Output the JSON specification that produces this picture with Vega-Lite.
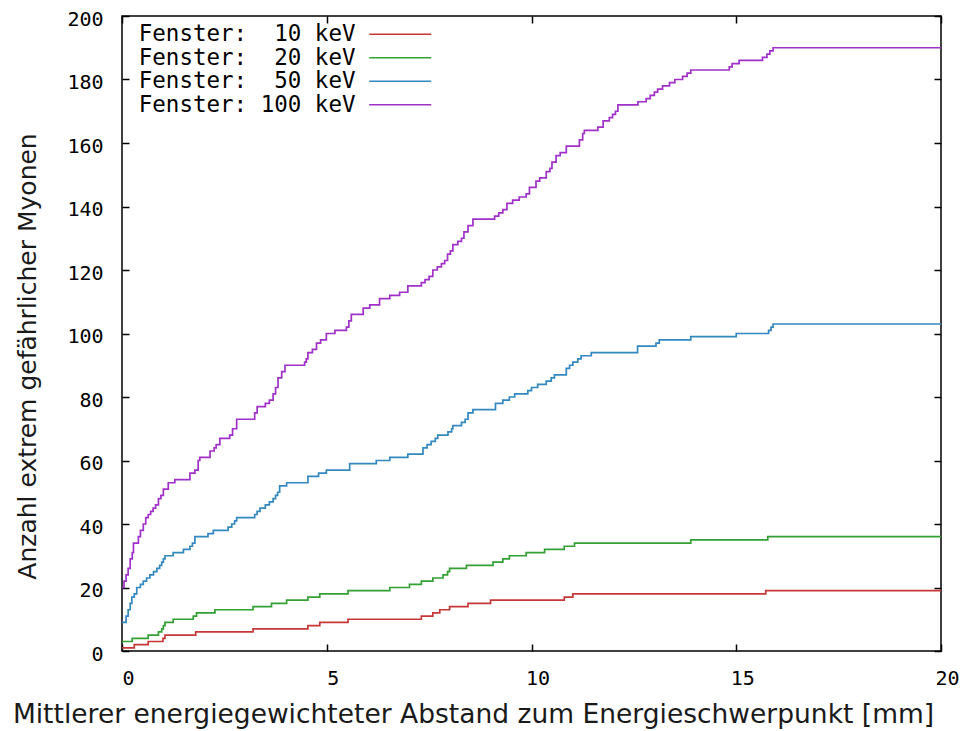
{
  "$schema": "https://vega.github.io/schema/vega-lite/v6.json",
  "width": 819,
  "height": 635,
  "autosize": {"type": "none"},
  "padding": {"left": 122, "top": 16, "right": 21, "bottom": 80},
  "background": "white",
  "config": {
    "view": {"stroke": "#000", "strokeWidth": 1.5},
    "font": "Liberation Sans"
  },
  "datasets": {
    "kurven": [
      {"fenster": "Fenster: \u00a010 keV", "abstand": 0, "anzahl": 1},
      {"fenster": "Fenster: \u00a010 keV", "abstand": 0.3, "anzahl": 2},
      {"fenster": "Fenster: \u00a010 keV", "abstand": 0.64, "anzahl": 3},
      {"fenster": "Fenster: \u00a010 keV", "abstand": 1.0, "anzahl": 4},
      {"fenster": "Fenster: \u00a010 keV", "abstand": 1.05, "anzahl": 5},
      {"fenster": "Fenster: \u00a010 keV", "abstand": 1.8, "anzahl": 6},
      {"fenster": "Fenster: \u00a010 keV", "abstand": 3.2, "anzahl": 7},
      {"fenster": "Fenster: \u00a010 keV", "abstand": 4.54, "anzahl": 8},
      {"fenster": "Fenster: \u00a010 keV", "abstand": 4.83, "anzahl": 9},
      {"fenster": "Fenster: \u00a010 keV", "abstand": 5.52, "anzahl": 10},
      {"fenster": "Fenster: \u00a010 keV", "abstand": 7.31, "anzahl": 11},
      {"fenster": "Fenster: \u00a010 keV", "abstand": 7.59, "anzahl": 12},
      {"fenster": "Fenster: \u00a010 keV", "abstand": 7.76, "anzahl": 13},
      {"fenster": "Fenster: \u00a010 keV", "abstand": 8.0, "anzahl": 14},
      {"fenster": "Fenster: \u00a010 keV", "abstand": 8.45, "anzahl": 15},
      {"fenster": "Fenster: \u00a010 keV", "abstand": 9.0, "anzahl": 16},
      {"fenster": "Fenster: \u00a010 keV", "abstand": 10.8, "anzahl": 17},
      {"fenster": "Fenster: \u00a010 keV", "abstand": 11.01, "anzahl": 18},
      {"fenster": "Fenster: \u00a010 keV", "abstand": 15.72, "anzahl": 19},
      {"fenster": "Fenster: \u00a010 keV", "abstand": 20, "anzahl": 19},

      {"fenster": "Fenster: \u00a020 keV", "abstand": 0, "anzahl": 3},
      {"fenster": "Fenster: \u00a020 keV", "abstand": 0.25, "anzahl": 4},
      {"fenster": "Fenster: \u00a020 keV", "abstand": 0.64, "anzahl": 5},
      {"fenster": "Fenster: \u00a020 keV", "abstand": 0.89, "anzahl": 6},
      {"fenster": "Fenster: \u00a020 keV", "abstand": 0.97, "anzahl": 7},
      {"fenster": "Fenster: \u00a020 keV", "abstand": 1.01, "anzahl": 8},
      {"fenster": "Fenster: \u00a020 keV", "abstand": 1.05, "anzahl": 9},
      {"fenster": "Fenster: \u00a020 keV", "abstand": 1.25, "anzahl": 10},
      {"fenster": "Fenster: \u00a020 keV", "abstand": 1.74, "anzahl": 11},
      {"fenster": "Fenster: \u00a020 keV", "abstand": 1.82, "anzahl": 12},
      {"fenster": "Fenster: \u00a020 keV", "abstand": 2.27, "anzahl": 13},
      {"fenster": "Fenster: \u00a020 keV", "abstand": 3.2, "anzahl": 14},
      {"fenster": "Fenster: \u00a020 keV", "abstand": 3.65, "anzahl": 15},
      {"fenster": "Fenster: \u00a020 keV", "abstand": 4.02, "anzahl": 16},
      {"fenster": "Fenster: \u00a020 keV", "abstand": 4.54, "anzahl": 17},
      {"fenster": "Fenster: \u00a020 keV", "abstand": 4.83, "anzahl": 18},
      {"fenster": "Fenster: \u00a020 keV", "abstand": 5.52, "anzahl": 19},
      {"fenster": "Fenster: \u00a020 keV", "abstand": 6.54, "anzahl": 20},
      {"fenster": "Fenster: \u00a020 keV", "abstand": 7.02, "anzahl": 21},
      {"fenster": "Fenster: \u00a020 keV", "abstand": 7.31, "anzahl": 22},
      {"fenster": "Fenster: \u00a020 keV", "abstand": 7.59, "anzahl": 23},
      {"fenster": "Fenster: \u00a020 keV", "abstand": 7.84, "anzahl": 24},
      {"fenster": "Fenster: \u00a020 keV", "abstand": 7.95, "anzahl": 25},
      {"fenster": "Fenster: \u00a020 keV", "abstand": 8.0, "anzahl": 26},
      {"fenster": "Fenster: \u00a020 keV", "abstand": 8.41, "anzahl": 27},
      {"fenster": "Fenster: \u00a020 keV", "abstand": 9.06, "anzahl": 28},
      {"fenster": "Fenster: \u00a020 keV", "abstand": 9.3, "anzahl": 29},
      {"fenster": "Fenster: \u00a020 keV", "abstand": 9.46, "anzahl": 30},
      {"fenster": "Fenster: \u00a020 keV", "abstand": 9.87, "anzahl": 31},
      {"fenster": "Fenster: \u00a020 keV", "abstand": 10.32, "anzahl": 32},
      {"fenster": "Fenster: \u00a020 keV", "abstand": 10.8, "anzahl": 33},
      {"fenster": "Fenster: \u00a020 keV", "abstand": 11.05, "anzahl": 34},
      {"fenster": "Fenster: \u00a020 keV", "abstand": 13.89, "anzahl": 35},
      {"fenster": "Fenster: \u00a020 keV", "abstand": 15.77, "anzahl": 36},
      {"fenster": "Fenster: \u00a020 keV", "abstand": 20, "anzahl": 36},

      {"fenster": "Fenster: \u00a050 keV", "abstand": 0, "anzahl": 9},
      {"fenster": "Fenster: \u00a050 keV", "abstand": 0.1, "anzahl": 11},
      {"fenster": "Fenster: \u00a050 keV", "abstand": 0.15, "anzahl": 13},
      {"fenster": "Fenster: \u00a050 keV", "abstand": 0.2, "anzahl": 15},
      {"fenster": "Fenster: \u00a050 keV", "abstand": 0.24, "anzahl": 17},
      {"fenster": "Fenster: \u00a050 keV", "abstand": 0.3, "anzahl": 18},
      {"fenster": "Fenster: \u00a050 keV", "abstand": 0.36, "anzahl": 20},
      {"fenster": "Fenster: \u00a050 keV", "abstand": 0.45, "anzahl": 21},
      {"fenster": "Fenster: \u00a050 keV", "abstand": 0.52, "anzahl": 22},
      {"fenster": "Fenster: \u00a050 keV", "abstand": 0.6, "anzahl": 23},
      {"fenster": "Fenster: \u00a050 keV", "abstand": 0.68, "anzahl": 24},
      {"fenster": "Fenster: \u00a050 keV", "abstand": 0.77, "anzahl": 25},
      {"fenster": "Fenster: \u00a050 keV", "abstand": 0.85, "anzahl": 26},
      {"fenster": "Fenster: \u00a050 keV", "abstand": 0.92, "anzahl": 27},
      {"fenster": "Fenster: \u00a050 keV", "abstand": 0.97, "anzahl": 28},
      {"fenster": "Fenster: \u00a050 keV", "abstand": 1.01, "anzahl": 29},
      {"fenster": "Fenster: \u00a050 keV", "abstand": 1.05, "anzahl": 30},
      {"fenster": "Fenster: \u00a050 keV", "abstand": 1.25, "anzahl": 31},
      {"fenster": "Fenster: \u00a050 keV", "abstand": 1.5, "anzahl": 32},
      {"fenster": "Fenster: \u00a050 keV", "abstand": 1.66, "anzahl": 33},
      {"fenster": "Fenster: \u00a050 keV", "abstand": 1.72, "anzahl": 34},
      {"fenster": "Fenster: \u00a050 keV", "abstand": 1.78, "anzahl": 36},
      {"fenster": "Fenster: \u00a050 keV", "abstand": 2.1, "anzahl": 37},
      {"fenster": "Fenster: \u00a050 keV", "abstand": 2.23, "anzahl": 38},
      {"fenster": "Fenster: \u00a050 keV", "abstand": 2.59, "anzahl": 39},
      {"fenster": "Fenster: \u00a050 keV", "abstand": 2.68, "anzahl": 40},
      {"fenster": "Fenster: \u00a050 keV", "abstand": 2.75, "anzahl": 41},
      {"fenster": "Fenster: \u00a050 keV", "abstand": 2.8, "anzahl": 42},
      {"fenster": "Fenster: \u00a050 keV", "abstand": 3.24, "anzahl": 43},
      {"fenster": "Fenster: \u00a050 keV", "abstand": 3.3, "anzahl": 44},
      {"fenster": "Fenster: \u00a050 keV", "abstand": 3.37, "anzahl": 45},
      {"fenster": "Fenster: \u00a050 keV", "abstand": 3.5, "anzahl": 46},
      {"fenster": "Fenster: \u00a050 keV", "abstand": 3.6, "anzahl": 47},
      {"fenster": "Fenster: \u00a050 keV", "abstand": 3.69, "anzahl": 48},
      {"fenster": "Fenster: \u00a050 keV", "abstand": 3.75, "anzahl": 49},
      {"fenster": "Fenster: \u00a050 keV", "abstand": 3.8, "anzahl": 50},
      {"fenster": "Fenster: \u00a050 keV", "abstand": 3.85, "anzahl": 52},
      {"fenster": "Fenster: \u00a050 keV", "abstand": 4.02, "anzahl": 53},
      {"fenster": "Fenster: \u00a050 keV", "abstand": 4.54, "anzahl": 55},
      {"fenster": "Fenster: \u00a050 keV", "abstand": 4.8, "anzahl": 56},
      {"fenster": "Fenster: \u00a050 keV", "abstand": 4.99, "anzahl": 57},
      {"fenster": "Fenster: \u00a050 keV", "abstand": 5.56, "anzahl": 59},
      {"fenster": "Fenster: \u00a050 keV", "abstand": 6.21, "anzahl": 60},
      {"fenster": "Fenster: \u00a050 keV", "abstand": 6.54, "anzahl": 61},
      {"fenster": "Fenster: \u00a050 keV", "abstand": 6.98, "anzahl": 62},
      {"fenster": "Fenster: \u00a050 keV", "abstand": 7.35, "anzahl": 64},
      {"fenster": "Fenster: \u00a050 keV", "abstand": 7.45, "anzahl": 65},
      {"fenster": "Fenster: \u00a050 keV", "abstand": 7.55, "anzahl": 66},
      {"fenster": "Fenster: \u00a050 keV", "abstand": 7.65, "anzahl": 67},
      {"fenster": "Fenster: \u00a050 keV", "abstand": 7.71, "anzahl": 68},
      {"fenster": "Fenster: \u00a050 keV", "abstand": 7.96, "anzahl": 69},
      {"fenster": "Fenster: \u00a050 keV", "abstand": 8.05, "anzahl": 70},
      {"fenster": "Fenster: \u00a050 keV", "abstand": 8.08, "anzahl": 71},
      {"fenster": "Fenster: \u00a050 keV", "abstand": 8.29, "anzahl": 72},
      {"fenster": "Fenster: \u00a050 keV", "abstand": 8.38, "anzahl": 73},
      {"fenster": "Fenster: \u00a050 keV", "abstand": 8.45, "anzahl": 75},
      {"fenster": "Fenster: \u00a050 keV", "abstand": 8.57, "anzahl": 76},
      {"fenster": "Fenster: \u00a050 keV", "abstand": 9.12, "anzahl": 78},
      {"fenster": "Fenster: \u00a050 keV", "abstand": 9.3, "anzahl": 79},
      {"fenster": "Fenster: \u00a050 keV", "abstand": 9.46, "anzahl": 80},
      {"fenster": "Fenster: \u00a050 keV", "abstand": 9.59, "anzahl": 81},
      {"fenster": "Fenster: \u00a050 keV", "abstand": 9.91, "anzahl": 82},
      {"fenster": "Fenster: \u00a050 keV", "abstand": 10.0, "anzahl": 83},
      {"fenster": "Fenster: \u00a050 keV", "abstand": 10.15, "anzahl": 84},
      {"fenster": "Fenster: \u00a050 keV", "abstand": 10.36, "anzahl": 85},
      {"fenster": "Fenster: \u00a050 keV", "abstand": 10.48, "anzahl": 86},
      {"fenster": "Fenster: \u00a050 keV", "abstand": 10.56, "anzahl": 87},
      {"fenster": "Fenster: \u00a050 keV", "abstand": 10.85, "anzahl": 89},
      {"fenster": "Fenster: \u00a050 keV", "abstand": 10.93, "anzahl": 90},
      {"fenster": "Fenster: \u00a050 keV", "abstand": 11.01, "anzahl": 91},
      {"fenster": "Fenster: \u00a050 keV", "abstand": 11.13, "anzahl": 92},
      {"fenster": "Fenster: \u00a050 keV", "abstand": 11.21, "anzahl": 93},
      {"fenster": "Fenster: \u00a050 keV", "abstand": 11.46, "anzahl": 94},
      {"fenster": "Fenster: \u00a050 keV", "abstand": 12.59, "anzahl": 96},
      {"fenster": "Fenster: \u00a050 keV", "abstand": 13.04, "anzahl": 97},
      {"fenster": "Fenster: \u00a050 keV", "abstand": 13.12, "anzahl": 98},
      {"fenster": "Fenster: \u00a050 keV", "abstand": 13.89, "anzahl": 99},
      {"fenster": "Fenster: \u00a050 keV", "abstand": 15.0, "anzahl": 100},
      {"fenster": "Fenster: \u00a050 keV", "abstand": 15.79, "anzahl": 101},
      {"fenster": "Fenster: \u00a050 keV", "abstand": 15.85, "anzahl": 102},
      {"fenster": "Fenster: \u00a050 keV", "abstand": 15.9, "anzahl": 103},
      {"fenster": "Fenster: \u00a050 keV", "abstand": 20, "anzahl": 103},

      {"fenster": "Fenster: 100 keV", "abstand": 0, "anzahl": 20},
      {"fenster": "Fenster: 100 keV", "abstand": 0.05, "anzahl": 22},
      {"fenster": "Fenster: 100 keV", "abstand": 0.1, "anzahl": 24},
      {"fenster": "Fenster: 100 keV", "abstand": 0.15, "anzahl": 26},
      {"fenster": "Fenster: 100 keV", "abstand": 0.2, "anzahl": 29},
      {"fenster": "Fenster: 100 keV", "abstand": 0.25, "anzahl": 31},
      {"fenster": "Fenster: 100 keV", "abstand": 0.28, "anzahl": 34},
      {"fenster": "Fenster: 100 keV", "abstand": 0.4, "anzahl": 36},
      {"fenster": "Fenster: 100 keV", "abstand": 0.45, "anzahl": 38},
      {"fenster": "Fenster: 100 keV", "abstand": 0.52, "anzahl": 40},
      {"fenster": "Fenster: 100 keV", "abstand": 0.58, "anzahl": 42},
      {"fenster": "Fenster: 100 keV", "abstand": 0.64, "anzahl": 43},
      {"fenster": "Fenster: 100 keV", "abstand": 0.7, "anzahl": 44},
      {"fenster": "Fenster: 100 keV", "abstand": 0.76, "anzahl": 45},
      {"fenster": "Fenster: 100 keV", "abstand": 0.82, "anzahl": 46},
      {"fenster": "Fenster: 100 keV", "abstand": 0.89, "anzahl": 48},
      {"fenster": "Fenster: 100 keV", "abstand": 0.95, "anzahl": 49},
      {"fenster": "Fenster: 100 keV", "abstand": 1.01, "anzahl": 51},
      {"fenster": "Fenster: 100 keV", "abstand": 1.13, "anzahl": 53},
      {"fenster": "Fenster: 100 keV", "abstand": 1.29, "anzahl": 54},
      {"fenster": "Fenster: 100 keV", "abstand": 1.66, "anzahl": 56},
      {"fenster": "Fenster: 100 keV", "abstand": 1.78, "anzahl": 57},
      {"fenster": "Fenster: 100 keV", "abstand": 1.86, "anzahl": 60},
      {"fenster": "Fenster: 100 keV", "abstand": 1.9, "anzahl": 61},
      {"fenster": "Fenster: 100 keV", "abstand": 2.15, "anzahl": 63},
      {"fenster": "Fenster: 100 keV", "abstand": 2.25, "anzahl": 64},
      {"fenster": "Fenster: 100 keV", "abstand": 2.3, "anzahl": 65},
      {"fenster": "Fenster: 100 keV", "abstand": 2.39, "anzahl": 67},
      {"fenster": "Fenster: 100 keV", "abstand": 2.63, "anzahl": 68},
      {"fenster": "Fenster: 100 keV", "abstand": 2.7, "anzahl": 70},
      {"fenster": "Fenster: 100 keV", "abstand": 2.8, "anzahl": 73},
      {"fenster": "Fenster: 100 keV", "abstand": 3.24, "anzahl": 75},
      {"fenster": "Fenster: 100 keV", "abstand": 3.3, "anzahl": 77},
      {"fenster": "Fenster: 100 keV", "abstand": 3.5, "anzahl": 78},
      {"fenster": "Fenster: 100 keV", "abstand": 3.6, "anzahl": 79},
      {"fenster": "Fenster: 100 keV", "abstand": 3.69, "anzahl": 81},
      {"fenster": "Fenster: 100 keV", "abstand": 3.75, "anzahl": 83},
      {"fenster": "Fenster: 100 keV", "abstand": 3.81, "anzahl": 86},
      {"fenster": "Fenster: 100 keV", "abstand": 3.9, "anzahl": 88},
      {"fenster": "Fenster: 100 keV", "abstand": 3.98, "anzahl": 90},
      {"fenster": "Fenster: 100 keV", "abstand": 4.46, "anzahl": 91},
      {"fenster": "Fenster: 100 keV", "abstand": 4.5, "anzahl": 92},
      {"fenster": "Fenster: 100 keV", "abstand": 4.54, "anzahl": 94},
      {"fenster": "Fenster: 100 keV", "abstand": 4.65, "anzahl": 95},
      {"fenster": "Fenster: 100 keV", "abstand": 4.75, "anzahl": 97},
      {"fenster": "Fenster: 100 keV", "abstand": 4.85, "anzahl": 98},
      {"fenster": "Fenster: 100 keV", "abstand": 4.99, "anzahl": 100},
      {"fenster": "Fenster: 100 keV", "abstand": 5.2, "anzahl": 101},
      {"fenster": "Fenster: 100 keV", "abstand": 5.48, "anzahl": 102},
      {"fenster": "Fenster: 100 keV", "abstand": 5.54, "anzahl": 104},
      {"fenster": "Fenster: 100 keV", "abstand": 5.6, "anzahl": 106},
      {"fenster": "Fenster: 100 keV", "abstand": 5.89, "anzahl": 108},
      {"fenster": "Fenster: 100 keV", "abstand": 6.05, "anzahl": 109},
      {"fenster": "Fenster: 100 keV", "abstand": 6.29, "anzahl": 111},
      {"fenster": "Fenster: 100 keV", "abstand": 6.54, "anzahl": 112},
      {"fenster": "Fenster: 100 keV", "abstand": 6.78, "anzahl": 113},
      {"fenster": "Fenster: 100 keV", "abstand": 6.98, "anzahl": 115},
      {"fenster": "Fenster: 100 keV", "abstand": 7.31, "anzahl": 116},
      {"fenster": "Fenster: 100 keV", "abstand": 7.4, "anzahl": 117},
      {"fenster": "Fenster: 100 keV", "abstand": 7.5, "anzahl": 118},
      {"fenster": "Fenster: 100 keV", "abstand": 7.59, "anzahl": 120},
      {"fenster": "Fenster: 100 keV", "abstand": 7.7, "anzahl": 121},
      {"fenster": "Fenster: 100 keV", "abstand": 7.8, "anzahl": 122},
      {"fenster": "Fenster: 100 keV", "abstand": 7.88, "anzahl": 123},
      {"fenster": "Fenster: 100 keV", "abstand": 7.95, "anzahl": 125},
      {"fenster": "Fenster: 100 keV", "abstand": 8.02, "anzahl": 126},
      {"fenster": "Fenster: 100 keV", "abstand": 8.08, "anzahl": 128},
      {"fenster": "Fenster: 100 keV", "abstand": 8.2, "anzahl": 129},
      {"fenster": "Fenster: 100 keV", "abstand": 8.29, "anzahl": 130},
      {"fenster": "Fenster: 100 keV", "abstand": 8.35, "anzahl": 132},
      {"fenster": "Fenster: 100 keV", "abstand": 8.45, "anzahl": 134},
      {"fenster": "Fenster: 100 keV", "abstand": 8.57, "anzahl": 136},
      {"fenster": "Fenster: 100 keV", "abstand": 9.1, "anzahl": 137},
      {"fenster": "Fenster: 100 keV", "abstand": 9.2, "anzahl": 138},
      {"fenster": "Fenster: 100 keV", "abstand": 9.3, "anzahl": 139},
      {"fenster": "Fenster: 100 keV", "abstand": 9.4, "anzahl": 141},
      {"fenster": "Fenster: 100 keV", "abstand": 9.54, "anzahl": 142},
      {"fenster": "Fenster: 100 keV", "abstand": 9.7, "anzahl": 143},
      {"fenster": "Fenster: 100 keV", "abstand": 9.87, "anzahl": 144},
      {"fenster": "Fenster: 100 keV", "abstand": 9.95, "anzahl": 146},
      {"fenster": "Fenster: 100 keV", "abstand": 10.11, "anzahl": 148},
      {"fenster": "Fenster: 100 keV", "abstand": 10.2, "anzahl": 149},
      {"fenster": "Fenster: 100 keV", "abstand": 10.36, "anzahl": 151},
      {"fenster": "Fenster: 100 keV", "abstand": 10.45, "anzahl": 152},
      {"fenster": "Fenster: 100 keV", "abstand": 10.5, "anzahl": 154},
      {"fenster": "Fenster: 100 keV", "abstand": 10.6, "anzahl": 156},
      {"fenster": "Fenster: 100 keV", "abstand": 10.7, "anzahl": 157},
      {"fenster": "Fenster: 100 keV", "abstand": 10.85, "anzahl": 159},
      {"fenster": "Fenster: 100 keV", "abstand": 11.17, "anzahl": 161},
      {"fenster": "Fenster: 100 keV", "abstand": 11.25, "anzahl": 163},
      {"fenster": "Fenster: 100 keV", "abstand": 11.29, "anzahl": 164},
      {"fenster": "Fenster: 100 keV", "abstand": 11.62, "anzahl": 165},
      {"fenster": "Fenster: 100 keV", "abstand": 11.75, "anzahl": 167},
      {"fenster": "Fenster: 100 keV", "abstand": 11.9, "anzahl": 168},
      {"fenster": "Fenster: 100 keV", "abstand": 11.98, "anzahl": 169},
      {"fenster": "Fenster: 100 keV", "abstand": 12.05, "anzahl": 170},
      {"fenster": "Fenster: 100 keV", "abstand": 12.11, "anzahl": 172},
      {"fenster": "Fenster: 100 keV", "abstand": 12.6, "anzahl": 173},
      {"fenster": "Fenster: 100 keV", "abstand": 12.8, "anzahl": 174},
      {"fenster": "Fenster: 100 keV", "abstand": 12.9, "anzahl": 175},
      {"fenster": "Fenster: 100 keV", "abstand": 13.0, "anzahl": 176},
      {"fenster": "Fenster: 100 keV", "abstand": 13.08, "anzahl": 177},
      {"fenster": "Fenster: 100 keV", "abstand": 13.2, "anzahl": 178},
      {"fenster": "Fenster: 100 keV", "abstand": 13.37, "anzahl": 179},
      {"fenster": "Fenster: 100 keV", "abstand": 13.5, "anzahl": 180},
      {"fenster": "Fenster: 100 keV", "abstand": 13.69, "anzahl": 181},
      {"fenster": "Fenster: 100 keV", "abstand": 13.8, "anzahl": 182},
      {"fenster": "Fenster: 100 keV", "abstand": 13.89, "anzahl": 183},
      {"fenster": "Fenster: 100 keV", "abstand": 14.83, "anzahl": 184},
      {"fenster": "Fenster: 100 keV", "abstand": 14.9, "anzahl": 185},
      {"fenster": "Fenster: 100 keV", "abstand": 15.07, "anzahl": 186},
      {"fenster": "Fenster: 100 keV", "abstand": 15.64, "anzahl": 187},
      {"fenster": "Fenster: 100 keV", "abstand": 15.75, "anzahl": 188},
      {"fenster": "Fenster: 100 keV", "abstand": 15.82, "anzahl": 189},
      {"fenster": "Fenster: 100 keV", "abstand": 15.9, "anzahl": 190},
      {"fenster": "Fenster: 100 keV", "abstand": 20, "anzahl": 190}
    ]
  },
  "data": {"name": "kurven"},
  "resolve": {"axis": {"x": "independent", "y": "independent"}},
  "layer": [
    {
      "transform": [{"filter": {"field": "fenster", "oneOf": ["Fenster: \u00a010 keV", "Fenster: \u00a020 keV"]}}],
      "mark": {"type": "line", "interpolate": "step-after", "strokeWidth": 1.7},
      "encoding": {
        "x": {
          "field": "abstand", "type": "quantitative",
          "scale": {"domain": [0, 20], "nice": false, "zero": false},
          "axis": {
            "orient": "bottom", "values": [0, 5, 10, 15, 20], "domain": false, "grid": false,
            "tickSize": -7, "tickWidth": 1.5, "tickColor": "#000",
            "labelFont": "DejaVu Sans Mono", "labelFontSize": 20, "labelColor": "#000",
            "labelPadding": 24, "labelOffset": 6, "labelFlush": false, "labelOverlap": false,
            "title": "Mittlerer energiegewichteter Abstand zum Energieschwerpunkt [mm]",
            "titleFont": "DejaVu Sans", "titleFontSize": 26.5, "titleFontWeight": "normal", "titleColor": "#1a1a1a",
            "titleX": 351, "titleY": 71, "titleAlign": "center", "titleBaseline": "alphabetic"
          }
        },
        "y": {
          "field": "anzahl", "type": "quantitative",
          "scale": {"domain": [0, 200], "nice": false},
          "axis": {
            "orient": "left", "values": [0, 20, 40, 60, 80, 100, 120, 140, 160, 180, 200], "domain": false, "grid": false,
            "tickSize": -7, "tickWidth": 1.5, "tickColor": "#000",
            "labelFont": "DejaVu Sans Mono", "labelFontSize": 20, "labelColor": "#000",
            "labelPadding": 26, "labelOffset": 3, "labelFlush": false, "labelOverlap": false,
            "title": "Anzahl extrem gefährlicher Myonen",
            "titleFont": "DejaVu Sans", "titleFontSize": 25, "titleFontWeight": "normal", "titleColor": "#1a1a1a",
            "titleX": -87, "titleY": 340, "titleAngle": 270, "titleAlign": "center", "titleBaseline": "alphabetic"
          }
        },
        "color": {
          "field": "fenster", "type": "nominal",
          "scale": {
            "domain": ["Fenster: \u00a010 keV", "Fenster: \u00a020 keV", "Fenster: \u00a050 keV", "Fenster: 100 keV"],
            "range": ["#c83737", "#33a033", "#3388c0", "#a030c8"]
          },
          "legend": {
            "orient": "none", "legendX": 267, "legendY": 7, "title": null, "padding": 0,
            "symbolType": "M-5,0H5", "symbolSize": 154, "symbolStrokeWidth": 1.7, "symbolFillColor": "transparent",
            "rowPadding": 0.5,
            "labelAlign": "right", "labelOffset": -56, "labelLimit": 400,
            "labelFont": "DejaVu Sans Mono", "labelFontSize": 22.5, "labelColor": "#000"
          }
        }
      }
    },
    {
      "transform": [{"filter": {"field": "fenster", "oneOf": ["Fenster: \u00a050 keV", "Fenster: 100 keV"]}}],
      "mark": {"type": "line", "interpolate": "step-after", "strokeWidth": 1.7},
      "encoding": {
        "x": {
          "field": "abstand", "type": "quantitative",
          "axis": {
            "orient": "top", "values": [0, 5, 10, 15, 20], "domain": false, "grid": false, "labels": false,
            "tickSize": -7, "tickWidth": 1.5, "tickColor": "#000", "title": null
          }
        },
        "y": {
          "field": "anzahl", "type": "quantitative",
          "axis": {
            "orient": "right", "values": [0, 20, 40, 60, 80, 100, 120, 140, 160, 180, 200], "domain": false, "grid": false, "labels": false,
            "tickSize": -7, "tickWidth": 1.5, "tickColor": "#000", "title": null
          }
        },
        "color": {"field": "fenster", "type": "nominal"}
      }
    }
  ]
}
